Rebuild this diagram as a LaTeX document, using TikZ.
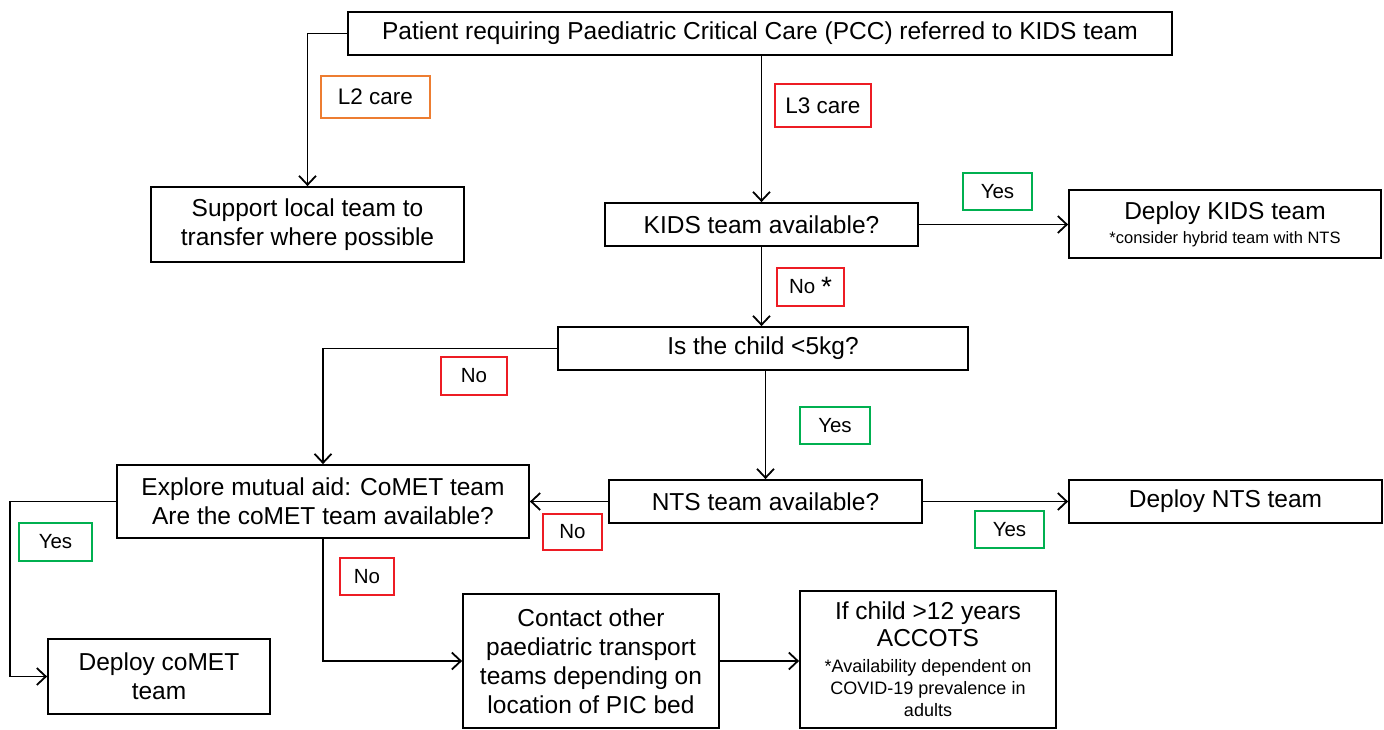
\documentclass[tikz,border=0pt]{standalone}
\usepackage{fontspec}
\setmainfont{Liberation Sans}
\usetikzlibrary{arrows.meta}
\definecolor{lblred}{RGB}{237,28,36}
\definecolor{lblorange}{RGB}{237,125,49}
\definecolor{lblgreen}{RGB}{0,176,80}
\begin{document}
\begin{tikzpicture}[x=1pt,y=-1pt,
  box/.style={draw=black,line width=1.8pt,fill=white,inner sep=0pt,align=center,
    font=\fontsize{24.5}{29}\selectfont},
  lbl/.style={draw=#1,line width=1.4pt,fill=white,inner sep=0pt,
    font=\fontsize{20.5}{24}\selectfont},
  arr/.style={line width=1.8pt,-{Straight Barb[length=9pt,width=17pt,line width=1.8pt]}},
  ln/.style={line width=1.8pt}]
\useasboundingbox (0,0) rectangle (1384,729);
\fill[white] (0,0) rectangle (1384,729);

% main boxes
\node[box,minimum width=824,minimum height=43] (top) at (760,33.5)
  {Patient requiring Paediatric Critical Care (PCC) referred to KIDS team};
\node[box,minimum width=313,minimum height=75] (support) at (307.5,224.5)
  {Support local team to\\transfer where possible};
\node[box,minimum width=313,minimum height=43] (kids) at (761.5,224.5)
  {KIDS team available?};
\node[box,minimum width=312,minimum height=68] (dkids) at (1225,224)
  {Deploy KIDS team\\[-5pt]{\fontsize{16.5}{19}\selectfont *consider hybrid team with NTS}};
\node[box,minimum width=410,minimum height=43] (child) at (763,348.5)
  {Is the child <5kg?};
\node[box,minimum width=313,minimum height=43] (nts) at (765.5,501.5)
  {NTS team available?};
\node[box,minimum width=412,minimum height=73] (explore) at (323,501.5)
  {Explore mutual aid: CoMET team\\Are the coMET team available?};
\node[box,minimum width=313,minimum height=43] (dnts) at (1225.5,501.5)
  {Deploy NTS team};
\node[box,minimum width=222,minimum height=75] (dcomet) at (159,676.5)
  {Deploy coMET\\team};
\node[box,minimum width=256,minimum height=134] (contact) at (591,661)
  {Contact other\\paediatric transport\\teams depending on\\location of PIC bed};
\node[box,minimum width=256,minimum height=137] (accots) at (928,659.5)
  {If child >12 years\\[-2pt]ACCOTS\\[-3pt]{\fontsize{18}{22}\selectfont *Availability dependent on}\\[-7pt]
   {\fontsize{18}{22}\selectfont COVID-19 prevalence in}\\[-7pt]{\fontsize{18}{22}\selectfont adults}};

% connectors
\draw[arr] (top.west) -| (support.north);
\draw[arr] (kids.north |- top.south) -- (kids.north);
\draw[arr] (kids.east) -- (dkids.west |- kids.east);
\draw[arr] (kids.south) -- (kids.south |- child.north);
\draw[arr] (child.west) -| (explore.north);
\draw[arr] (nts.north |- child.south) -- (nts.north);
\draw[arr] (nts.west) -- (explore.east |- nts.west);
\draw[arr] (nts.east) -- (dnts.west);
\coordinate (lft) at (10,501.5);
\draw[arr] (explore.west) -- (lft) |- (dcomet.west);
\draw[arr] (explore.south) |- (contact.west);
\draw[arr] (contact.east) -- (accots.west |- contact.east);

% labels
\node[lbl=lblorange,minimum width=109,minimum height=42,font=\fontsize{22.5}{24}\selectfont] (l2) at (375.5,97) {L2 care};
\node[lbl=lblred,minimum width=96,minimum height=43,font=\fontsize{22.5}{24}\selectfont] (l3) at (823,105.5) {L3 care};
\node[lbl=lblgreen,minimum width=69,minimum height=37] (y1) at (997.5,191.5) {Yes};
\node[lbl=lblred,minimum width=67,minimum height=38] (n1) at (810.5,287) {No {\fontsize{28}{28}\selectfont\raisebox{-3pt}{*}}};
\node[lbl=lblred,minimum width=66,minimum height=38] (n2) at (474,376) {No};
\node[lbl=lblgreen,minimum width=70,minimum height=37] (y2) at (835,425.5) {Yes};
\node[lbl=lblred,minimum width=59,minimum height=36] (n3) at (572.5,532) {No};
\node[lbl=lblgreen,minimum width=69,minimum height=37] (y3) at (1009.5,529.5) {Yes};
\node[lbl=lblgreen,minimum width=73,minimum height=38] (y4) at (55.5,542) {Yes};
\node[lbl=lblred,minimum width=54,minimum height=37] (n4) at (367,576.5) {No};
\end{tikzpicture}
\end{document}
